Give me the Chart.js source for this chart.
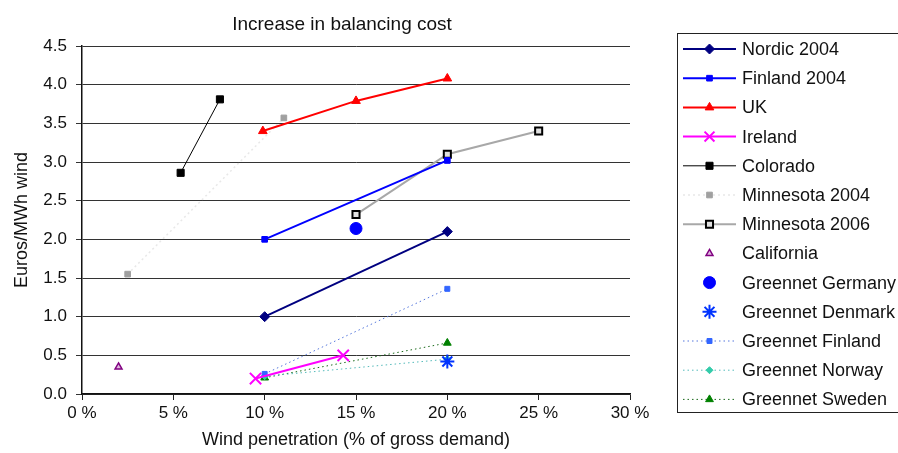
<!DOCTYPE html>
<html>
<head>
<meta charset="utf-8">
<script src="https://cdn.jsdelivr.net/npm/chart.js@4/dist/chart.umd.min.js"></script>
<style>
  html, body { margin: 0; padding: 0; background: #fff; }
  #wrap { width: 898px; height: 453px; position: relative; }
</style>
</head>
<body>
<div id="wrap"><canvas id="c" width="898" height="453"></canvas></div>
<script>
// ---- Data ----
const chartTitle = 'Increase in balancing cost';
const xAxisTitle = 'Wind penetration (% of gross demand)';
const yAxisTitle = 'Euros/MWh wind';

const xTickValues = [0, 5, 10, 15, 20, 25, 30];
const yTickValues = [0, 0.5, 1, 1.5, 2, 2.5, 3, 3.5, 4, 4.5];

const seriesLabels = ['Nordic 2004', 'Finland 2004', 'UK', 'Ireland', 'Colorado', 'Minnesota 2004',
  'Minnesota 2006', 'California', 'Greennet Germany', 'Greennet Denmark', 'Greennet Finland',
  'Greennet Norway', 'Greennet Sweden'];

const nordicX = [10, 20];           const nordicY = [1.0, 2.1];
const finlandX = [10, 20];          const finlandY = [2.0, 3.02];
const ukX = [9.9, 15, 20];          const ukY = [3.4, 3.79, 4.08];
const irelandX = [9.5, 14.3];       const irelandY = [0.2, 0.5];
const coloradoX = [5.4, 7.55];      const coloradoY = [2.86, 3.81];
const minn2004X = [2.5, 11.05];     const minn2004Y = [1.55, 3.57];
const minn2006X = [15, 20, 25];     const minn2006Y = [2.32, 3.1, 3.4];
const californiaX = [2.0];          const californiaY = [0.35];
const gGermanyX = [15];             const gGermanyY = [2.14];
const gDenmarkX = [20];             const gDenmarkY = [0.42];
const gFinlandX = [10, 20];         const gFinlandY = [0.26, 1.36];
const gNorwayX = [10, 20];          const gNorwayY = [0.23, 0.45];
const gSwedenX = [10, 20];          const gSwedenY = [0.21, 0.66];

function pts(xs, ys) { return xs.map((x, i) => ({ x: x, y: ys[i] })); }

const FONT = "'Liberation Sans', Arial, Helvetica, sans-serif";

function ds(i, xs, ys, o) {
  return Object.assign({
    label: seriesLabels[i],
    data: pts(xs, ys),
    showLine: true,
    borderWidth: 2,
    pointBorderWidth: 1,
    pointRadius: 4,
    pointHoverRadius: 4,
    fill: false,
    tension: 0
  }, o);
}

const datasets = [
  ds(0, nordicX, nordicY, { borderColor: '#000080', backgroundColor: '#000080', pointBackgroundColor: '#000080', pointBorderColor: '#000080', pointStyle: 'rectRot', pointRadius: 5 }),
  ds(1, finlandX, finlandY, { borderColor: '#0000FF', backgroundColor: '#0000FF', pointBackgroundColor: '#0000FF', pointBorderColor: '#0000FF', pointStyle: 'rect', pointRadius: 4 }),
  ds(2, ukX, ukY, { borderColor: '#FF0000', backgroundColor: '#FF0000', pointBackgroundColor: '#FF0000', pointBorderColor: '#FF0000', pointStyle: 'triangle', pointRadius: 5 }),
  ds(3, irelandX, irelandY, { borderColor: '#FF00FF', backgroundColor: '#FF00FF', pointBackgroundColor: '#FF00FF', pointBorderColor: '#FF00FF', pointStyle: 'crossRot', pointRadius: 8, pointBorderWidth: 2 }),
  ds(4, coloradoX, coloradoY, { borderColor: '#000000', backgroundColor: '#000000', pointBackgroundColor: '#000000', pointBorderColor: '#000000', pointStyle: 'rect', pointRadius: 5, borderWidth: 1 }),
  ds(5, minn2004X, minn2004Y, { borderColor: 'rgba(190,190,190,0.35)', backgroundColor: '#a0a0a0', pointBackgroundColor: '#a0a0a0', pointBorderColor: '#a0a0a0', pointStyle: 'rect', pointRadius: 4, borderWidth: 1.5, borderDash: [2, 3] }),
  ds(6, minn2006X, minn2006Y, { borderColor: '#a8a8a8', backgroundColor: '#e0e0e0', pointBackgroundColor: '#e0e0e0', pointBorderColor: '#000000', pointStyle: 'rect', pointRadius: 5, pointBorderWidth: 2 }),
  ds(7, californiaX, californiaY, { showLine: false, borderColor: '#800080', backgroundColor: '#e0b8e0', pointBackgroundColor: '#e0b8e0', pointBorderColor: '#800080', pointStyle: 'triangle', pointRadius: 4, pointBorderWidth: 1.5 }),
  ds(8, gGermanyX, gGermanyY, { showLine: false, borderColor: '#0000FF', backgroundColor: '#0000FF', pointBackgroundColor: '#0000FF', pointBorderColor: '#0000FF', pointStyle: 'circle', pointRadius: 6 }),
  ds(9, gDenmarkX, gDenmarkY, { showLine: false, borderColor: '#0033FF', backgroundColor: '#0033FF', pointBackgroundColor: '#0033FF', pointBorderColor: '#0033FF', pointStyle: 'star', pointRadius: 7, pointBorderWidth: 2 }),
  ds(10, gFinlandX, gFinlandY, { borderColor: '#5577dd', backgroundColor: '#3366FF', pointBackgroundColor: '#3366FF', pointBorderColor: '#3366FF', pointStyle: 'rect', pointRadius: 3.5, borderWidth: 1, borderDash: [1.5, 3] }),
  ds(11, gNorwayX, gNorwayY, { borderColor: '#55bbbb', backgroundColor: '#33CCAA', pointBackgroundColor: '#33CCAA', pointBorderColor: '#33CCAA', pointStyle: 'rectRot', pointRadius: 3.5, borderWidth: 1, borderDash: [1.5, 3] }),
  ds(12, gSwedenX, gSwedenY, { borderColor: '#1a6a1a', backgroundColor: '#008000', pointBackgroundColor: '#008000', pointBorderColor: '#008000', pointStyle: 'triangle', pointRadius: 4.5, borderWidth: 1, borderDash: [1.5, 3] })
];

// custom title placed like the reference
const titlePlugin = {
  id: 'refTitle',
  afterDraw(chart) {
    const ctx = chart.ctx;
    ctx.save();
    ctx.fillStyle = '#111';
    ctx.font = '19px ' + FONT;
    ctx.textAlign = 'center';
    ctx.textBaseline = 'alphabetic';
    ctx.fillText(chartTitle, 342, 30);
    ctx.restore();
  }
};

// custom legend (line sample + marker) like the reference
const legendPlugin = {
  id: 'refLegend',
  afterDraw(chart) {
    const ctx = chart.ctx;
    const left = 677, top = 33, bottom = 412, right = 905;
    const rowStart = 49, rowGap = 29.2;
    ctx.save();
    ctx.strokeStyle = '#222';
    ctx.lineWidth = 1;
    ctx.strokeRect(left + 0.5, top + 0.5, right - left, bottom - top);
    chart.data.datasets.forEach((d, i) => {
      const y = rowStart + i * rowGap;
      if (d.showLine !== false) {
        ctx.save();
        ctx.strokeStyle = d.borderColor;
        ctx.lineWidth = d.borderWidth;
        ctx.setLineDash(d.borderDash || []);
        ctx.beginPath();
        ctx.moveTo(683, y);
        ctx.lineTo(736, y);
        ctx.stroke();
        ctx.restore();
      }
      ctx.save();
      ctx.fillStyle = d.pointBackgroundColor;
      ctx.strokeStyle = d.pointBorderColor;
      ctx.lineWidth = d.pointBorderWidth;
      Chart.helpers.drawPoint(ctx, {
        pointStyle: d.pointStyle,
        radius: Math.min(d.pointRadius, 7),
        rotation: 0,
        borderWidth: d.pointBorderWidth
      }, 709.5, y);
      ctx.restore();
      ctx.fillStyle = '#111';
      ctx.font = '18px ' + FONT;
      ctx.textAlign = 'left';
      ctx.textBaseline = 'middle';
      ctx.fillText(d.label, 742, y + 1);
    });
    ctx.restore();
  }
};

const whiteBg = {
  id: 'whiteBg',
  beforeDraw(chart) {
    const ctx = chart.ctx;
    ctx.save();
    ctx.fillStyle = '#fff';
    ctx.fillRect(0, 0, chart.width, chart.height);
    ctx.restore();
  }
};

new Chart(document.getElementById('c'), {
  type: 'scatter',
  data: { datasets: datasets },
  options: {
    responsive: false,
    animation: false,
    events: [],
    layout: { padding: { left: 0, right: 268, top: 46, bottom: 0 } },
    plugins: {
      legend: { display: false },
      title: { display: false },
      tooltip: { enabled: false }
    },
    scales: {
      x: {
        type: 'linear',
        min: 0, max: 30,
        afterBuildTicks(scale) { scale.ticks = xTickValues.map(v => ({ value: v })); },
        afterFit(scale) { scale.height = 59; },
        ticks: {
          callback: v => v + ' %',
          color: '#111',
          font: { family: FONT, size: 17 },
          padding: 3,
          maxRotation: 0
        },
        grid: { drawOnChartArea: false, drawTicks: true, tickLength: 6, color: '#222', lineWidth: 1 },
        border: { display: true, color: '#111', width: 1.5 },
        title: {
          display: true, text: xAxisTitle, color: '#111',
          font: { family: FONT, size: 18 }, padding: { top: 2, bottom: 2 }
        }
      },
      y: {
        type: 'linear',
        min: 0, max: 4.5,
        afterBuildTicks(scale) { scale.ticks = yTickValues.map(v => ({ value: v })); },
        afterFit(scale) { scale.width = 82; },
        ticks: {
          callback: v => Number(v).toFixed(1),
          color: '#111',
          font: { family: FONT, size: 17 },
          padding: 9
        },
        grid: { drawOnChartArea: true, drawTicks: true, tickLength: 6, color: '#333', lineWidth: 1 },
        border: { display: true, color: '#111', width: 1.5 },
        title: {
          display: true, text: yAxisTitle, color: '#111',
          font: { family: FONT, size: 18 }, padding: { top: 11, bottom: 2 }
        }
      }
    }
  },
  plugins: [whiteBg, titlePlugin, legendPlugin]
});
</script>
</body>
</html>
